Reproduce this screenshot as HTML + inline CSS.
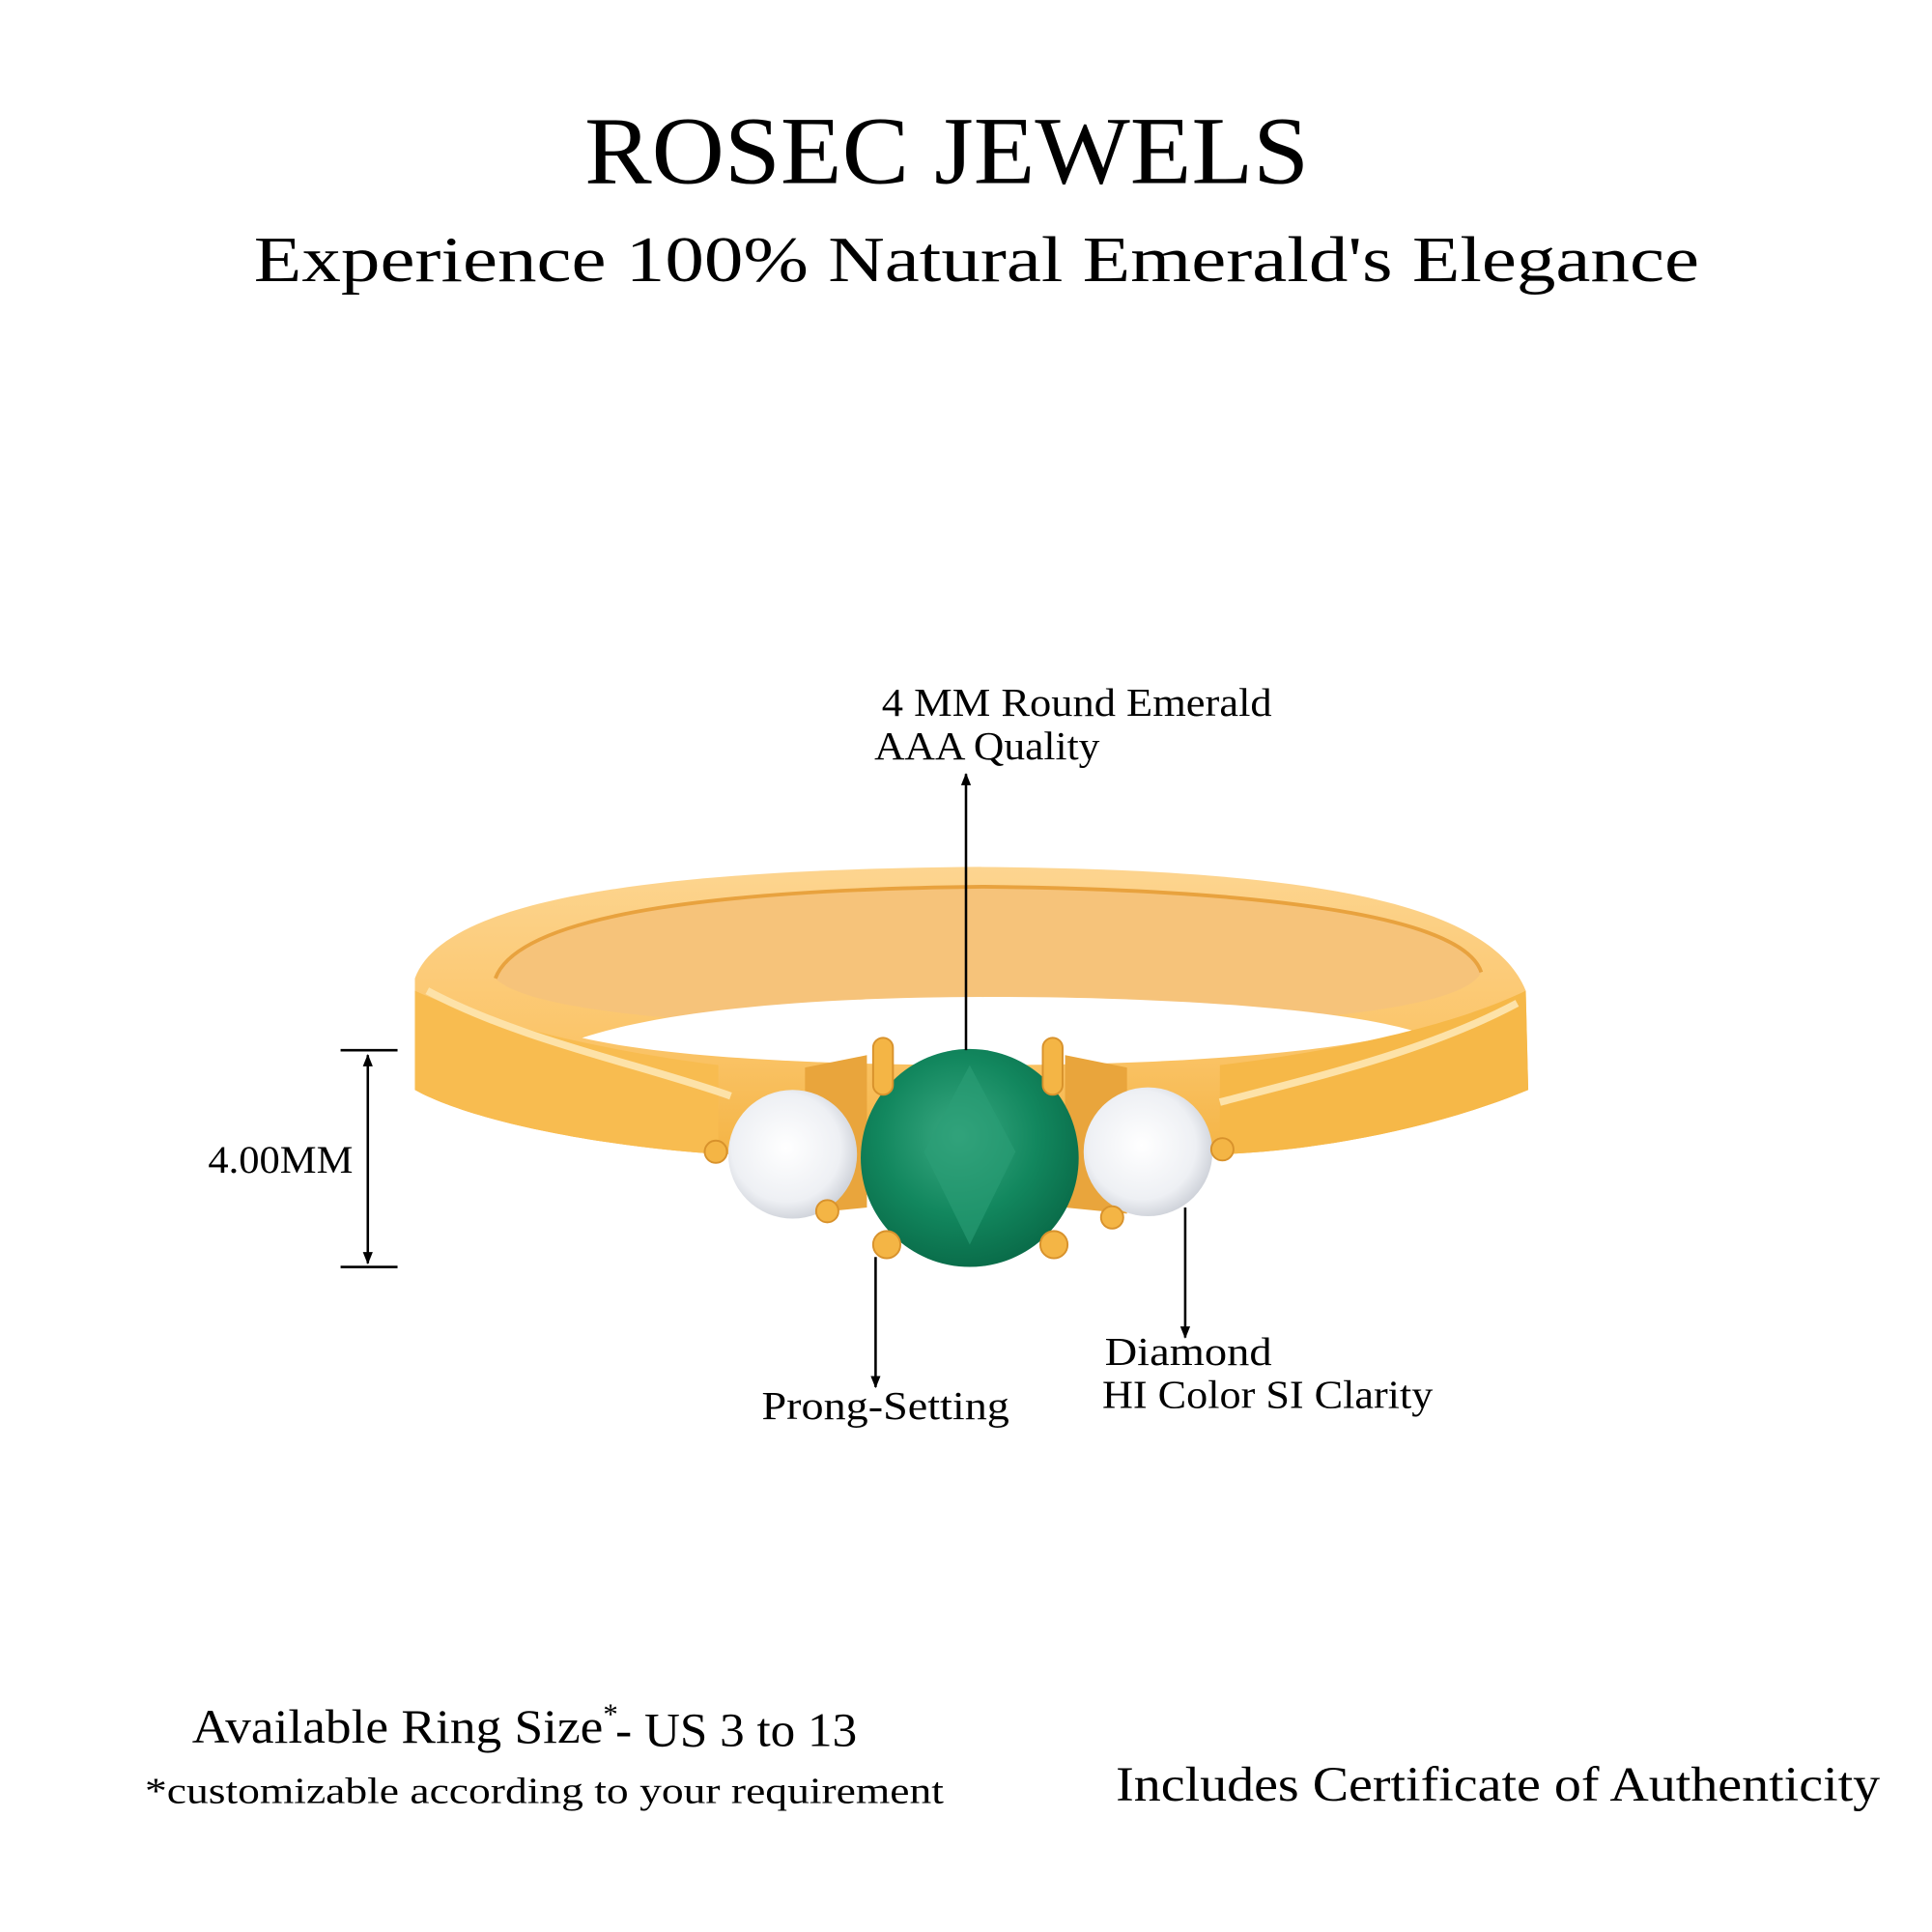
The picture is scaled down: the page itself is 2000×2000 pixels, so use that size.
<!DOCTYPE html>
<html><head><meta charset="utf-8"><style>html,body{margin:0;padding:0;background:#fff}svg{display:block}</style></head>
<body>
<svg width="2000" height="2000" viewBox="0 0 1560 1560" xmlns="http://www.w3.org/2000/svg" font-family="'Liberation Serif','DejaVu Serif',serif">
<defs>
<linearGradient id="band" x1="0" y1="0" x2="0" y2="1">
<stop offset="0" stop-color="#fdd590"/><stop offset="0.6" stop-color="#fbc56a"/><stop offset="1" stop-color="#f4b445"/>
</linearGradient>
<radialGradient id="em" cx="0.45" cy="0.4" r="0.6">
<stop offset="0" stop-color="#3aa982"/><stop offset="0.6" stop-color="#12875e"/><stop offset="1" stop-color="#0a6d4a"/>
</radialGradient>
<radialGradient id="dia" cx="0.45" cy="0.45" r="0.6">
<stop offset="0" stop-color="#ffffff"/><stop offset="0.7" stop-color="#eef0f4"/><stop offset="1" stop-color="#c8ccd4"/>
</radialGradient>
<marker id="ah" viewBox="0 0 10 10" refX="9" refY="5" markerWidth="10" markerHeight="10" orient="auto-start-reverse" markerUnits="userSpaceOnUse"><path d="M0,1 L10,5 L0,9 z" fill="#000"/></marker>
</defs>
<rect width="1560" height="1560" fill="#fff"/>
<text x="472" y="148" font-size="78" textLength="585" lengthAdjust="spacingAndGlyphs">ROSEC JEWELS</text>
<text x="205" y="227" font-size="52" textLength="1167" lengthAdjust="spacingAndGlyphs">Experience 100% Natural Emerald's Elegance</text>

<!-- ring -->
<path d="M335,790 C360,720 560,702 790,700 C1020,702 1200,720 1232,800 L1234,880 C1150,915 1050,930 985,932 L580,932 C480,925 380,905 335,880 Z" fill="url(#band)"/>
<path d="M400,790 C420,735 600,718 795,716 C990,718 1180,735 1196,785 C1180,820 1000,830 800,832 C600,830 430,820 400,790 Z" fill="#f6c37a"/>
<path d="M470,838 C540,815 660,805 800,805 C950,805 1080,815 1140,832 C1090,848 960,860 800,860 C640,860 530,852 470,838 Z" fill="#fff"/>
<path d="M335,800 C400,830 500,850 580,860 L580,932 C480,925 380,905 335,880 Z" fill="#f8bc50"/>
<path d="M1232,800 C1170,830 1070,850 985,860 L985,932 C1050,930 1150,915 1234,880 Z" fill="#f6b848"/>
<path d="M345,800 C420,840 520,860 590,885" stroke="#fde2a8" stroke-width="6" fill="none"/>
<path d="M1225,810 C1150,850 1060,870 985,890" stroke="#fde2a8" stroke-width="6" fill="none"/>
<path d="M400,790 C420,735 600,718 795,716 C990,718 1180,735 1196,785" stroke="#e8a23e" stroke-width="3" fill="none"/>

<!-- side settings -->
<path d="M650,862 L700,852 L700,975 L650,980 Z" fill="#e9a53c"/>
<path d="M860,852 L910,862 L910,980 L860,975 Z" fill="#e9a53c"/>
<circle cx="640" cy="932" r="52" fill="url(#dia)"/>
<circle cx="927" cy="930" r="52" fill="url(#dia)"/>
<!-- emerald -->
<circle cx="783" cy="935" r="88" fill="url(#em)"/>
<path d="M783,860 L820,930 L783,1005 L746,930 Z" fill="#2c9e76" opacity="0.6"/>
<!-- prongs -->
<g fill="#f4b545" stroke="#d8922c" stroke-width="1.5">
<rect x="705" y="838" width="16" height="46" rx="8"/><rect x="842" y="838" width="16" height="46" rx="8"/>
<circle cx="716" cy="1005" r="11"/><circle cx="851" cy="1005" r="11"/>
<circle cx="578" cy="930" r="9"/><circle cx="987" cy="928" r="9"/>
<circle cx="668" cy="978" r="9"/><circle cx="898" cy="983" r="9"/>
</g>

<!-- annotations -->
<g stroke="#000" stroke-width="2" fill="none">
<line x1="780" y1="848" x2="780" y2="625" marker-end="url(#ah)"/>
<line x1="707" y1="1015" x2="707" y2="1120" marker-end="url(#ah)"/>
<line x1="957" y1="975" x2="957" y2="1080" marker-end="url(#ah)"/>
<line x1="297" y1="852" x2="297" y2="1020" marker-end="url(#ah)" marker-start="url(#ah)"/>
<line x1="275" y1="848" x2="321" y2="848"/>
<line x1="275" y1="1023" x2="321" y2="1023"/>
</g>
<g font-size="32" fill="#000" lengthAdjust="spacingAndGlyphs">
<text x="712" y="578" textLength="315" lengthAdjust="spacingAndGlyphs">4 MM Round Emerald</text>
<text x="706" y="613" textLength="182" lengthAdjust="spacingAndGlyphs">AAA Quality</text>
<text x="615" y="1146" textLength="200" lengthAdjust="spacingAndGlyphs">Prong-Setting</text>
<text x="892" y="1102" textLength="135" lengthAdjust="spacingAndGlyphs">Diamond</text>
<text x="890" y="1137" textLength="267" lengthAdjust="spacingAndGlyphs">HI Color SI Clarity</text>
<text x="168" y="947" font-size="31" textLength="117" lengthAdjust="spacingAndGlyphs">4.00MM</text>
</g>
<text x="155" y="1407" font-size="39" textLength="332" lengthAdjust="spacingAndGlyphs">Available Ring Size</text>
<text x="487" y="1392" font-size="24">*</text>
<text x="497" y="1410" font-size="39" textLength="195" lengthAdjust="spacingAndGlyphs">- US 3 to 13</text>
<text x="117" y="1456" font-size="30" textLength="645" lengthAdjust="spacingAndGlyphs">*customizable according to your requirement</text>
<text x="901" y="1454" font-size="40" textLength="617" lengthAdjust="spacingAndGlyphs">Includes Certificate of Authenticity</text>
</svg>
</body></html>
